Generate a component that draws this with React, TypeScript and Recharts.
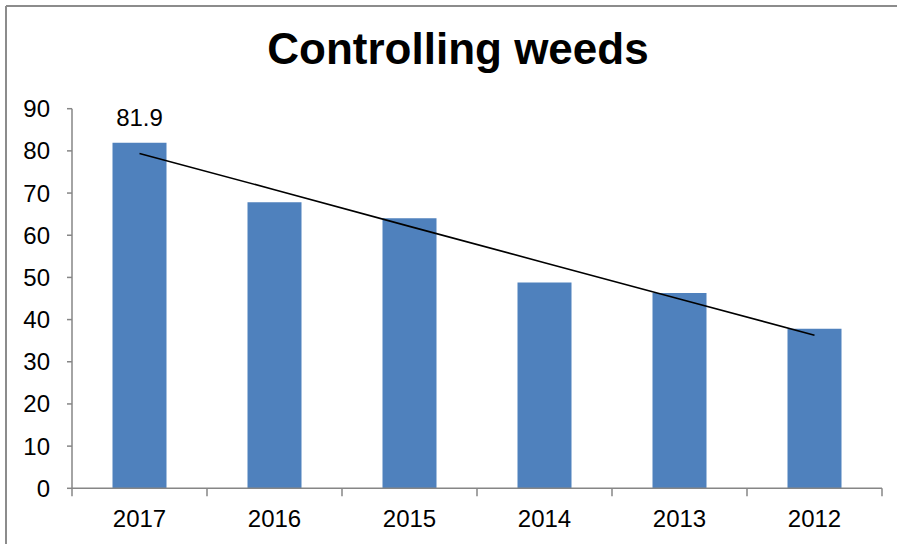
import { Bar, ComposedChart, LabelList, Line, XAxis, YAxis } from 'recharts'

const years = ['2017', '2016', '2015', '2014', '2013', '2012']
const shares = [81.9, 67.8, 64.0, 48.8, 46.3, 37.8]
// linear trendline as drawn in the picture
const trend = [79.4, 70.8, 62.1, 53.5, 44.9, 36.3]
const valueLabels = ['81.9', null, null, null, null, null]
const yTicks = [0, 10, 20, 30, 40, 50, 60, 70, 80, 90]

const FONT = '"Liberation Sans", Arial, sans-serif'
const AXIS_GREY = '#868686'
const TICK_SIZE = 8
const TICK_MARGIN = 14
const LABEL_SIZE = 24

const data = years.map((year, i) => ({
  year,
  value: shares[i],
  trend: trend[i],
  label: valueLabels[i],
}))

// year label at the band centre, tick marks on the band edges
const YearTick = (props: any) => {
  const { x, y, payload, index } = props
  const half = payload?.offset ?? 0
  const axisY = y - TICK_SIZE - TICK_MARGIN
  const last = index === years.length - 1
  return (
    <g>
      <line x1={x - half} x2={x - half} y1={axisY} y2={axisY + TICK_SIZE} stroke={AXIS_GREY} strokeWidth={1.5} />
      {last && (
        <line x1={x + half} x2={x + half} y1={axisY} y2={axisY + TICK_SIZE} stroke={AXIS_GREY} strokeWidth={1.5} />
      )}
      <text x={x} y={y} dy="0.68em" textAnchor="middle" fill="#000" fontSize={LABEL_SIZE} fontFamily={FONT}>
        {payload.value}
      </text>
    </g>
  )
}

const App = () => {
  return (
    <div style={{ position: 'absolute', left: 0, top: 0, width: 897, height: 544, background: '#fff' }}>
      <svg width={897} height={544} style={{ position: 'absolute', left: 0, top: 0 }}>
        <line x1={6} y1={6} x2={897} y2={6} stroke="#8c8c8c" strokeWidth={2} />
        <line x1={6} y1={6} x2={6} y2={544} stroke="#8c8c8c" strokeWidth={2} />
        <text x={458} y={63.5} textAnchor="middle" fontSize={44} fontWeight="bold" fontFamily={FONT} fill="#000">
          Controlling weeds
        </text>
      </svg>
      <div style={{ position: 'absolute', left: 0, top: 0 }}>
        <ComposedChart
          width={897}
          height={544}
          data={data}
          margin={{ top: 108.7, right: 15, bottom: 15.7, left: 10 }}
          barCategoryGap="30%"
        >
          <XAxis
            dataKey="year"
            height={40}
            stroke={AXIS_GREY}
            strokeWidth={1.5}
            tickLine={false}
            tickSize={TICK_SIZE}
            tickMargin={TICK_MARGIN}
            tick={<YearTick />}
            interval={0}
          />
          <YAxis
            width={62}
            domain={[0, 90]}
            ticks={yTicks}
            interval={0}
            stroke={AXIS_GREY}
            strokeWidth={1.5}
            tickSize={5}
            tickMargin={17}
            tick={{ fill: '#000', fontSize: LABEL_SIZE, fontFamily: FONT }}
          />
          <Bar dataKey="value" fill="#4F81BD" isAnimationActive={false}>
            <LabelList dataKey="label" position="top" offset={17} fill="#000" fontSize={LABEL_SIZE} fontFamily={FONT} />
          </Bar>
          <Line
            dataKey="trend"
            stroke="#000"
            strokeWidth={1.6}
            dot={false}
            activeDot={false}
            type="linear"
            isAnimationActive={false}
          />
        </ComposedChart>
      </div>
    </div>
  )
}

export default App
